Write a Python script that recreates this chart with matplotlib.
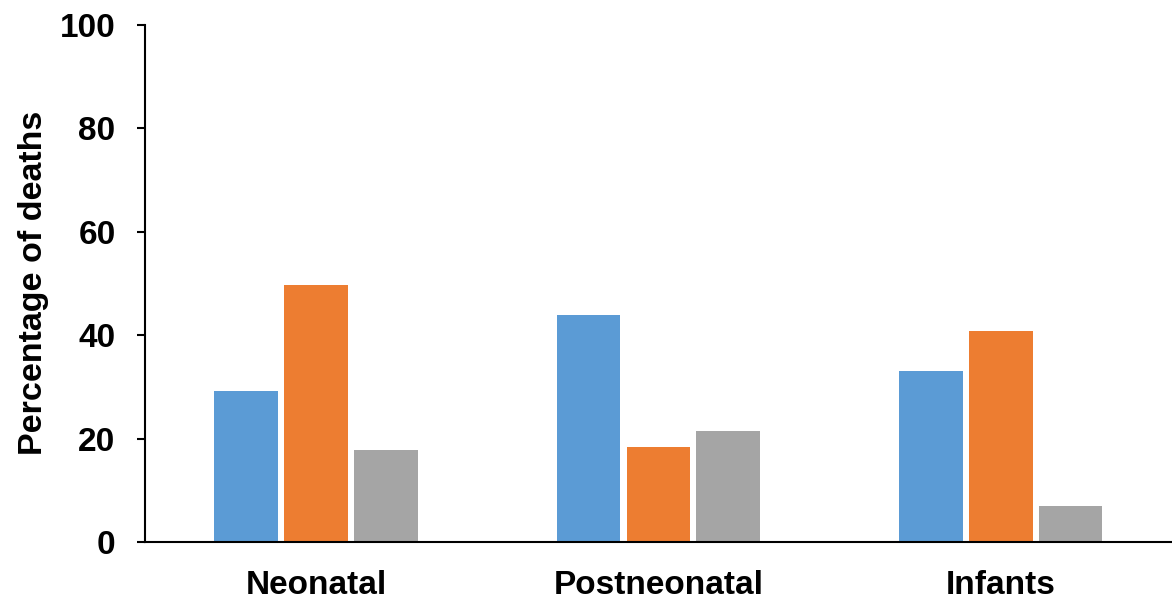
import numpy as np
import matplotlib.pyplot as plt

categories = ['Neonatal', 'Postneonatal', 'Infants']
series_a = [29.1, 43.8, 33.1]
series_b = [49.6, 18.3, 40.8]
series_c = [17.8, 21.4, 7.0]
yticks = [0, 20, 40, 60, 80, 100]

plt.rcParams['font.family'] = ['Liberation Sans', 'DejaVu Sans']

fig = plt.figure(figsize=(11.72, 5.99), dpi=100)
ax = fig.add_axes([0.1235, 0.095, 0.8765, 0.864])

x = np.arange(len(categories))
w = 0.186
step = 0.204
ax.bar(x - step, series_a, w, color='#5B9BD5')
ax.bar(x, series_b, w, color='#ED7D31')
ax.bar(x + step, series_c, w, color='#A5A5A5')

ax.set_xlim(-0.5, 2.5)
ax.set_ylim(0, 100)
ax.set_yticks(yticks)
ax.set_xticks(x)
ax.set_xticklabels(categories, fontsize=24, fontweight='bold')
ax.tick_params(axis='y', labelsize=24, length=6, width=1.5, pad=15)
ax.tick_params(axis='x', length=0, pad=20)
for lbl in ax.get_yticklabels():
    lbl.set_fontweight('bold')
ax.set_ylabel('Percentage of deaths', fontsize=24.5, fontweight='bold', labelpad=8)

ax.spines['top'].set_visible(False)
ax.spines['right'].set_visible(False)
ax.spines['left'].set_linewidth(1.5)
ax.spines['bottom'].set_linewidth(1.5)

fig.savefig('out.png', dpi=100)
